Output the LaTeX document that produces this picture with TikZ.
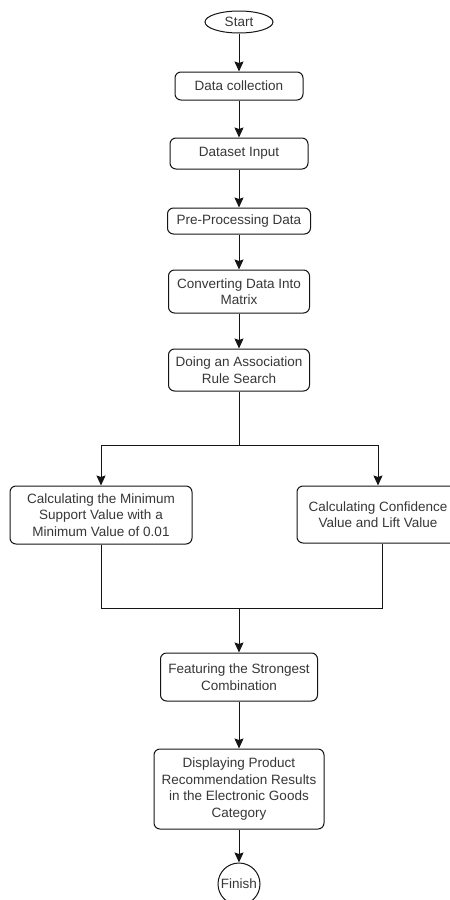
\documentclass[tikz,border=0pt]{standalone}
\usepackage{fontspec}
\setmainfont{Liberation Sans}
\usepackage{tikz}
\usetikzlibrary{shapes.geometric,arrows.meta,positioning,calc}
\usepackage{xcolor}
\definecolor{cLine}{RGB}{20,20,20}
\definecolor{cText}{RGB}{55,55,55}
\newcommand{\flowfont}{\fontsize{13.5}{16.5}\selectfont}
\tikzset{
  basebox/.style={rectangle,rounded corners=6pt,draw=cLine,line width=1pt,
                  fill=white,align=center,font=\flowfont,text=cText,inner sep=2pt},
  termnode/.style={ellipse,draw=cLine,line width=1pt,fill=white,
                   font=\flowfont,text=cText,inner sep=0pt,
                   minimum width=68pt,minimum height=22pt},
  endnode/.style={circle,draw=cLine,line width=1pt,fill=white,
                  font=\flowfont,text=cText,inner sep=0pt,minimum size=42pt},
  arr/.style={-{Stealth[length=10pt,width=9pt,inset=1.5pt]},line width=1pt,color=cLine},
  plainline/.style={line width=1pt,color=cLine}
}
\begin{document}
\begin{tikzpicture}[x=1pt,y=1pt,node distance=36pt]

  \clip (0,0) rectangle (450,-900);

  \node[termnode] (start) at (239,-22) {Start};

  % Main chain
  \node[basebox,minimum width=128pt,minimum height=28pt,below=38pt of start] (collect)
      {Data collection};
  \node[basebox,minimum width=138pt,minimum height=31pt,below=37pt of collect] (input)
      {Dataset Input};
  \node[basebox,minimum width=143pt,minimum height=26pt,below=38pt of input] (prep)
      {Pre-Processing Data};
  \node[basebox,minimum width=141pt,minimum height=43pt,below=35pt of prep] (matrix)
      {Converting Data Into\\Matrix};
  \node[basebox,minimum width=141pt,minimum height=42pt,below=35pt of matrix] (rules)
      {Doing an Association\\Rule Search};

  % Two parallel branches
  \coordinate[below=54pt of rules] (split);
  \node[basebox,minimum width=182pt,minimum height=58pt,below=40pt of split,xshift=-138pt] (support)
      {Calculating the Minimum\\Support Value with a\\Minimum Value of 0.01};
  \node[basebox,minimum width=162pt,minimum height=57pt,below=40pt of split,xshift=139pt] (conf)
      {Calculating Confidence\\Value and Lift Value};
  \coordinate (join) at ([yshift=-64pt]support.south -| split);

  \node[basebox,minimum width=157pt,minimum height=48pt,below=44pt of join] (strong)
      {Featuring the Strongest\\Combination};
  \node[basebox,minimum width=170pt,minimum height=80pt,below=47pt of strong] (display)
      {Displaying Product\\Recommendation Results\\in the Electronic Goods\\Category};
  \node[endnode,below=33pt of display] (finish) {Finish};

  \draw[arr] (start) -- (collect);
  \draw[arr] (collect) -- (input);
  \draw[arr] (input) -- (prep);
  \draw[arr] (prep) -- (matrix);
  \draw[arr] (matrix) -- (rules);
  \draw[plainline] (rules) -- (split);
  \draw[arr] (split) -| (support);
  \draw[arr] (split) -| (conf);
  \draw[plainline] (support.south) -- (support.south |- join);
  \draw[plainline] ([xshift=4pt]conf.south) -- ([xshift=4pt]conf.south |- join);
  \draw[plainline] (support.south |- join) -- ([xshift=4pt]conf.south |- join);
  \draw[arr] (join) -- (strong);
  \draw[arr] (strong) -- (display);
  \draw[arr] (display) -- (finish);

\end{tikzpicture}
\end{document}
